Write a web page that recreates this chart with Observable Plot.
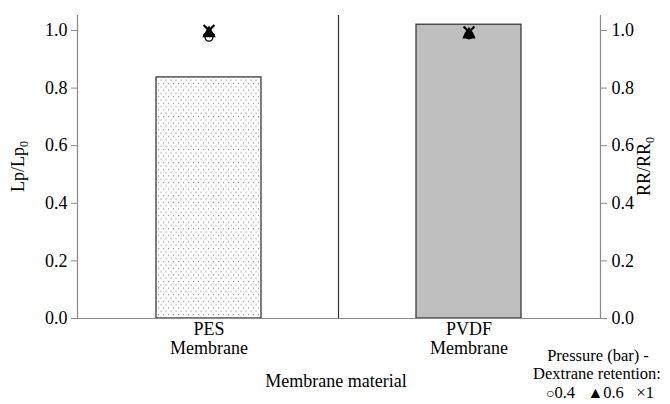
<!DOCTYPE html>
<html>
<head>
<meta charset="utf-8">
<script src="https://cdn.jsdelivr.net/npm/d3@7"></script>
<script src="https://cdn.jsdelivr.net/npm/@observablehq/plot@0.6"></script>
<style>
  body { margin: 0; background: white; }
  #chart { position: relative; width: 670px; height: 404px; }
  #chart svg, #chart svg text { font-family: "Liberation Serif", "DejaVu Serif", "Noto Serif", "Times New Roman", Times, serif !important; }
</style>
</head>
<body>
<div id="chart"></div>
<script>
// Data
const categories = ["PES", "PVDF"];
const tickLabels = ["PES\nMembrane", "PVDF\nMembrane"];
const lpRatio = [0.837, 1.02];            // Lp/Lp0 (bars)
const pressures = ["0.4", "0.6", "1"];     // bar
const rrPES = [0.977, 0.99, 1.0];          // RR/RR0 for PES at each pressure
const rrPVDF = [0.985, 0.986, 0.995];      // RR/RR0 for PVDF at each pressure
const yTicks = [0, 0.2, 0.4, 0.6, 0.8, 1.0];

const bars = categories.map((c, i) => ({cat: c, lp: lpRatio[i]}));
const retention = [];
pressures.forEach((p, j) => {
  retention.push({cat: "PES", pressure: p, rr: rrPES[j]});
  retention.push({cat: "PVDF", pressure: p, rr: rrPVDF[j]});
});

const font = "'Liberation Serif', 'DejaVu Serif', 'Noto Serif', 'Times New Roman', serif";
const axisColor = "#8a8a8a";
const plot = Plot.plot({
  width: 670, height: 404,
  marginLeft: 77, marginRight: 70, marginTop: 15, marginBottom: 86,
  style: {fontFamily: font, fontSize: "18px", background: "white", color: "black"},
  x: {domain: categories, paddingInner: 0.596, paddingOuter: 0.3, label: null},
  y: {domain: [0, 1.052], label: null},
  color: {domain: categories, range: ["url(#dots)", "#bfbfbf"]},
  marks: [
    Plot.barY(bars, {x: "cat", y: "lp", fill: "cat", stroke: "#3a3a3a", strokeWidth: 1.3}),
    Plot.frame({anchor: "left", stroke: axisColor, strokeWidth: 1.2}),
    Plot.frame({anchor: "right", stroke: axisColor, strokeWidth: 1.2}),
    Plot.frame({anchor: "bottom", stroke: axisColor, strokeWidth: 1.2}),
    Plot.axisY({anchor: "left", ticks: yTicks, tickFormat: d3.format(".1f"), tickSize: 6, tickPadding: 4, stroke: axisColor, label: null}),
    Plot.axisY({anchor: "right", ticks: yTicks, tickFormat: d3.format(".1f"), tickSize: 6, tickPadding: 5, stroke: axisColor, label: null}),
    Plot.axisX({tickSize: 0, tickPadding: 3, tickFormat: d => tickLabels[categories.indexOf(d)], label: null, lineHeight: 1.05}),
    Plot.dot(retention.filter(d => d.pressure === "0.4"), {x: "cat", y: "rr", symbol: "circle", r: 4, stroke: "black", fill: "white", strokeWidth: 1.3}),
    Plot.dot(retention.filter(d => d.pressure === "0.6"), {x: "cat", y: "rr", symbol: "triangle", r: 5, fill: "black", stroke: "none"}),
    Plot.dot(retention.filter(d => d.pressure === "1"), {x: "cat", y: "rr", symbol: "times", r: 5, stroke: "black", strokeWidth: 2.2})
  ]
});

document.getElementById("chart").appendChild(plot);
const svg = d3.select(plot);

// dotted pattern for PES bar
const defs = svg.insert("defs", ":first-child");
const pat = defs.append("pattern").attr("id", "dots").attr("patternUnits", "userSpaceOnUse")
  .attr("width", 5).attr("height", 6.6);
pat.append("rect").attr("width", 5).attr("height", 6.6).attr("fill", "white");
pat.append("rect").attr("x", 0.5).attr("y", 0.5).attr("width", 1.1).attr("height", 1.1).attr("fill", "#8c8c8c");
pat.append("rect").attr("x", 3).attr("y", 3.8).attr("width", 1.1).attr("height", 1.1).attr("fill", "#8c8c8c");

// category divider line
const xs = plot.scale("x"), ys = plot.scale("y");
const boundary = xs.apply(categories[0]) + xs.bandwidth + (xs.step - xs.bandwidth) / 2;
svg.append("line").attr("x1", boundary).attr("x2", boundary)
  .attr("y1", ys.apply(ys.domain[1])).attr("y2", ys.apply(0))
  .attr("stroke", "#333").attr("stroke-width", 1.2);

const midY = (ys.apply(0) + ys.apply(ys.domain[1])) / 2;

// y axis titles with subscripts
const lt = svg.append("text").attr("transform", `translate(24,${midY}) rotate(-90)`)
  .attr("text-anchor", "middle").attr("font-family", font).attr("font-size", 18);
lt.append("tspan").text("Lp/Lp");
lt.append("tspan").attr("font-size", 12).attr("dy", 4).text("0");

const rt = svg.append("text").attr("transform", `translate(650,${midY}) rotate(-90)`)
  .attr("text-anchor", "middle").attr("font-family", font).attr("font-size", 18);
rt.append("tspan").text("RR/RR");
rt.append("tspan").attr("font-size", 12).attr("dy", 4).text("0");

// x axis title
svg.append("text").attr("x", 336).attr("y", 387).attr("text-anchor", "middle")
  .attr("font-family", font).attr("font-size", 18).text("Membrane material");

// legend
const lg = svg.append("g").attr("font-family", font).attr("font-size", 16.5).attr("text-anchor", "middle");
lg.append("text").attr("x", 598).attr("y", 361).text("Pressure (bar) -");
lg.append("text").attr("x", 597).attr("y", 379).text("Dextrane retention:");
const l3 = lg.append("text").attr("x", 600).attr("y", 398).style("white-space", "pre");
l3.append("tspan").attr("font-size", 14).text("○");
l3.append("tspan").text("0.4   ");
l3.append("tspan").attr("font-size", 16).text("▲");
l3.append("tspan").text("0.6   ");
l3.append("tspan").attr("font-size", 17).text("×");
l3.append("tspan").text("1");
</script>
</body>
</html>
